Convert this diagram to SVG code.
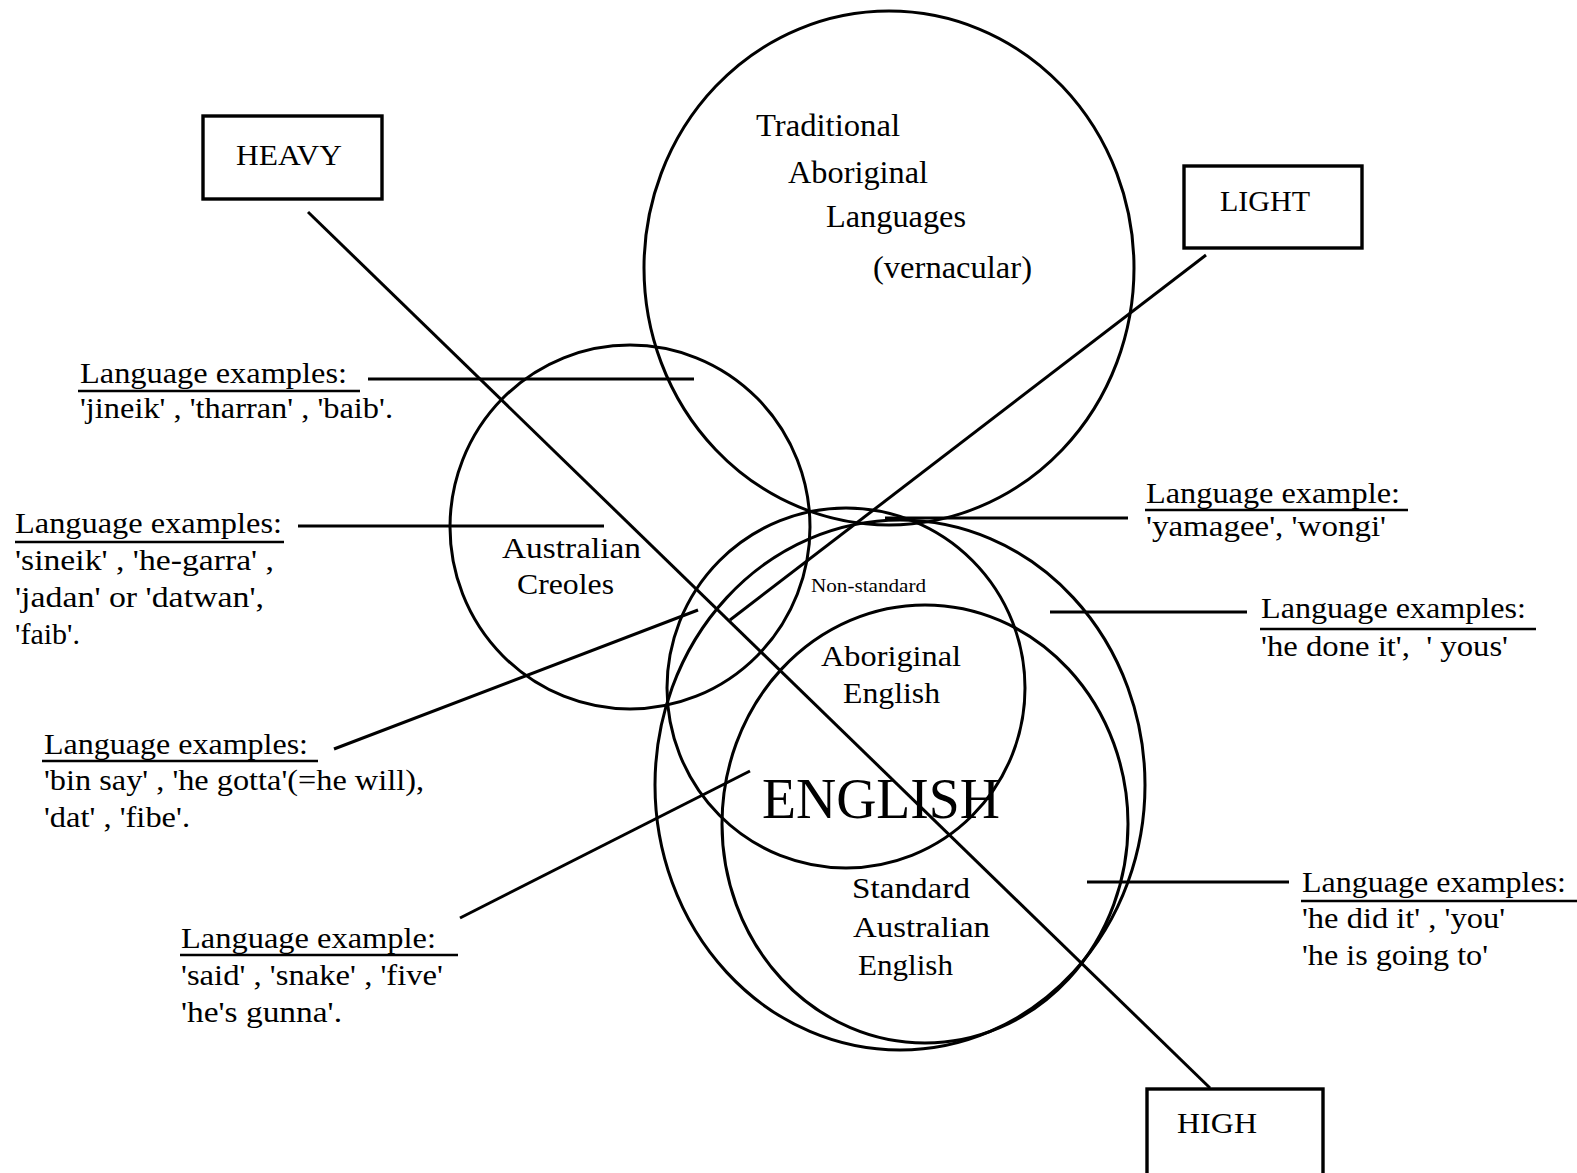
<svg xmlns="http://www.w3.org/2000/svg" width="1577" height="1173" viewBox="0 0 1577 1173">
<style>
.t{font-family:"Liberation Serif","Times New Roman",serif;fill:#000;font-size:29px;white-space:pre}
.t31{font-size:31px}
.t30{font-size:30px}
.big{font-size:57px}
.sm{font-size:18px}
.c{fill:none;stroke:#000;stroke-width:3}
.l{stroke:#000;stroke-width:3;fill:none}
.u{stroke:#000;stroke-width:2.6}
.b{fill:#fff;stroke:#000;stroke-width:3.4}
</style>
<rect width="1577" height="1173" fill="#fff"/>
<g id="circle-traditional">
<ellipse class="c" cx="889" cy="268" rx="245" ry="257"/>
<text class="t t31" x="756" y="136" textLength="144" lengthAdjust="spacingAndGlyphs">Traditional</text>
<text class="t t31" x="788" y="183" textLength="140" lengthAdjust="spacingAndGlyphs">Aboriginal</text>
<text class="t t31" x="826" y="227" textLength="140" lengthAdjust="spacingAndGlyphs">Languages</text>
<text class="t t31" x="873" y="278" textLength="159" lengthAdjust="spacingAndGlyphs">(vernacular)</text>
</g>
<g id="circle-creoles">
<ellipse class="c" cx="630" cy="527" rx="180" ry="182"/>
<text class="t" x="502" y="558" textLength="139" lengthAdjust="spacingAndGlyphs">Australian</text>
<text class="t" x="517" y="594" textLength="97" lengthAdjust="spacingAndGlyphs">Creoles</text>
</g>
<g id="circle-english">
<ellipse class="c" cx="900" cy="785" rx="245" ry="265"/>
<text class="t big" x="762" y="818" textLength="238" lengthAdjust="spacingAndGlyphs">ENGLISH</text>
</g>
<g id="circle-aboriginal-english">
<ellipse class="c" cx="846" cy="688" rx="179" ry="180"/>
<text class="t sm" x="811" y="592" textLength="115" lengthAdjust="spacingAndGlyphs">Non-standard</text>
<text class="t t30" x="821" y="666" textLength="140" lengthAdjust="spacingAndGlyphs">Aboriginal</text>
<text class="t t30" x="843" y="703" textLength="97" lengthAdjust="spacingAndGlyphs">English</text>
</g>
<g id="circle-standard-english">
<ellipse class="c" cx="925" cy="824" rx="203" ry="219"/>
<text class="t" x="852" y="898" textLength="118" lengthAdjust="spacingAndGlyphs">Standard</text>
<text class="t" x="853" y="937" textLength="137" lengthAdjust="spacingAndGlyphs">Australian</text>
<text class="t" x="858" y="975" textLength="95" lengthAdjust="spacingAndGlyphs">English</text>
</g>
<g id="connectors">
<line class="l" x1="308" y1="212" x2="1210" y2="1088"/>
<line class="l" x1="1206" y1="255" x2="730" y2="620"/>
<line class="l" x1="368" y1="379" x2="694" y2="379"/>
<line class="l" x1="298" y1="526" x2="604" y2="526"/>
<line class="l" x1="334" y1="749" x2="698" y2="610"/>
<line class="l" x1="460" y1="918" x2="750" y2="771"/>
<line class="l" x1="885" y1="518" x2="1128" y2="518"/>
<line class="l" x1="1050" y1="612" x2="1247" y2="612"/>
<line class="l" x1="1087" y1="882" x2="1289" y2="882"/>
</g>
<g id="box-heavy">
<rect class="b" x="203" y="116" width="179" height="83"/>
<text class="t" x="236" y="165" textLength="106" lengthAdjust="spacingAndGlyphs">HEAVY</text>
</g>
<g id="box-light">
<rect class="b" x="1184" y="166" width="178" height="82"/>
<text class="t" x="1220" y="211" textLength="90" lengthAdjust="spacingAndGlyphs">LIGHT</text>
</g>
<g id="box-high">
<rect class="b" x="1147" y="1089" width="176" height="90"/>
<text class="t" x="1177" y="1133" textLength="80" lengthAdjust="spacingAndGlyphs">HIGH</text>
</g>
<g id="example-creole-traditional">
<text class="t" x="80" y="383" textLength="267" lengthAdjust="spacingAndGlyphs">Language examples:</text>
<line class="u" x1="78" y1="391" x2="360" y2="391"/>
<text class="t" x="80" y="418" textLength="313" lengthAdjust="spacingAndGlyphs">'jineik' , 'tharran' , 'baib'.</text>
</g>
<g id="example-creoles">
<text class="t" x="15" y="533" textLength="267" lengthAdjust="spacingAndGlyphs">Language examples:</text>
<line class="u" x1="15" y1="542" x2="284" y2="542"/>
<text class="t" x="15" y="570" textLength="259" lengthAdjust="spacingAndGlyphs">'sineik' , 'he-garra' ,</text>
<text class="t" x="15" y="607" textLength="249" lengthAdjust="spacingAndGlyphs">'jadan' or 'datwan',</text>
<text class="t" x="15" y="644" textLength="65" lengthAdjust="spacingAndGlyphs">'faib'.</text>
</g>
<g id="example-creole-english">
<text class="t" x="44" y="754" textLength="264" lengthAdjust="spacingAndGlyphs">Language examples:</text>
<line class="u" x1="42" y1="761" x2="318" y2="761"/>
<text class="t" x="44" y="790" textLength="380" lengthAdjust="spacingAndGlyphs">'bin say' , 'he gotta'(=he will),</text>
<text class="t" x="44" y="827" textLength="146" lengthAdjust="spacingAndGlyphs">'dat' , 'fibe'.</text>
</g>
<g id="example-accent">
<text class="t" x="181" y="948" textLength="255" lengthAdjust="spacingAndGlyphs">Language example:</text>
<line class="u" x1="180" y1="955" x2="458" y2="955"/>
<text class="t" x="181" y="985" textLength="262" lengthAdjust="spacingAndGlyphs">'said' , 'snake' , 'five'</text>
<text class="t" x="181" y="1022" textLength="161" lengthAdjust="spacingAndGlyphs">'he's gunna'.</text>
</g>
<g id="example-traditional-english">
<text class="t" x="1146" y="503" textLength="254" lengthAdjust="spacingAndGlyphs">Language example:</text>
<line class="u" x1="1145" y1="510" x2="1408" y2="510"/>
<text class="t" x="1146" y="536" textLength="240" lengthAdjust="spacingAndGlyphs">'yamagee', 'wongi'</text>
</g>
<g id="example-nonstandard">
<text class="t" x="1261" y="618" textLength="265" lengthAdjust="spacingAndGlyphs">Language examples:</text>
<line class="u" x1="1260" y1="629" x2="1536" y2="629"/>
<text class="t" x="1261" y="656" textLength="247" lengthAdjust="spacingAndGlyphs">'he done it',  ' yous'</text>
</g>
<g id="example-standard">
<text class="t" x="1302" y="892" textLength="264" lengthAdjust="spacingAndGlyphs">Language examples:</text>
<line class="u" x1="1301" y1="901" x2="1577" y2="901"/>
<text class="t" x="1302" y="928" textLength="203" lengthAdjust="spacingAndGlyphs">'he did it' , 'you'</text>
<text class="t" x="1302" y="965" textLength="186" lengthAdjust="spacingAndGlyphs">'he is going to'</text>
</g>
</svg>
